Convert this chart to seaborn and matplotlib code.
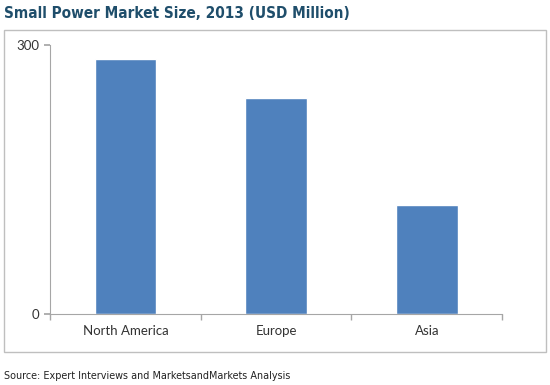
"""Small power market size by region, 2013 (bar chart)."""

import matplotlib

matplotlib.use("Agg")
import matplotlib.pyplot as plt
import pandas as pd
import seaborn as sns
from matplotlib.patches import Rectangle

regions = ["North America", "Europe", "Asia"]
market_size = [284, 241, 122]
y_ticks = [0, 300]

BAR_COLOR = "#4F81BD"
TITLE_COLOR = "#1F4E6B"
AXIS_GRAY = "#A6A6A6"

sns.set_theme(style="white")
plt.rcParams["font.family"] = ["Lato", "DejaVu Sans"]

df = pd.DataFrame({"region": regions, "size": market_size})

fig = plt.figure(figsize=(5.5, 3.85), dpi=100)
ax = fig.add_axes([0.091, 0.184, 0.822, 0.699])

sns.barplot(data=df, x="region", y="size", color=BAR_COLOR, width=0.41,
            saturation=1, ax=ax)

ax.set_ylim(0, 300)
ax.set_xlim(-0.5, len(regions) - 0.5)
ax.set_yticks(y_ticks)
ax.set_xlabel("")
ax.set_ylabel("")
ax.tick_params(axis="y", length=4, color=AXIS_GRAY, labelsize=9.5,
               labelcolor="#333333", left=True, pad=4)
ax.tick_params(axis="x", length=0, labelsize=9.5, labelcolor="#333333", pad=8)
# category-boundary ticks on the x axis
ax.set_xticks([i - 0.5 for i in range(len(regions) + 1)], minor=True)
ax.tick_params(axis="x", which="minor", length=4, color=AXIS_GRAY, bottom=True)
for side in ["top", "right"]:
    ax.spines[side].set_visible(False)
for side in ["left", "bottom"]:
    ax.spines[side].set_color(AXIS_GRAY)
    ax.spines[side].set_linewidth(0.8)

# outer chart border
fig.patches.append(Rectangle((4 / 550, 1 - 352 / 385), 542 / 550, 322 / 385,
                             transform=fig.transFigure, fill=False,
                             edgecolor="#BFBFBF", linewidth=1.0))

fig.text(4 / 550, 1 - 14 / 385, "Small Power Market Size, 2013 (USD Million)",
         ha="left", va="center", fontsize=11, fontweight="bold",
         fontstretch="condensed", color=TITLE_COLOR,
         family=["DejaVu Sans"])
fig.text(4 / 550, 1 - 376 / 385,
         "Source: Expert Interviews and MarketsandMarkets Analysis",
         ha="left", va="center", fontsize=7.75, color="#222222",
         fontstretch="condensed", family=["DejaVu Sans"])

fig.savefig("out.png", dpi=100)
